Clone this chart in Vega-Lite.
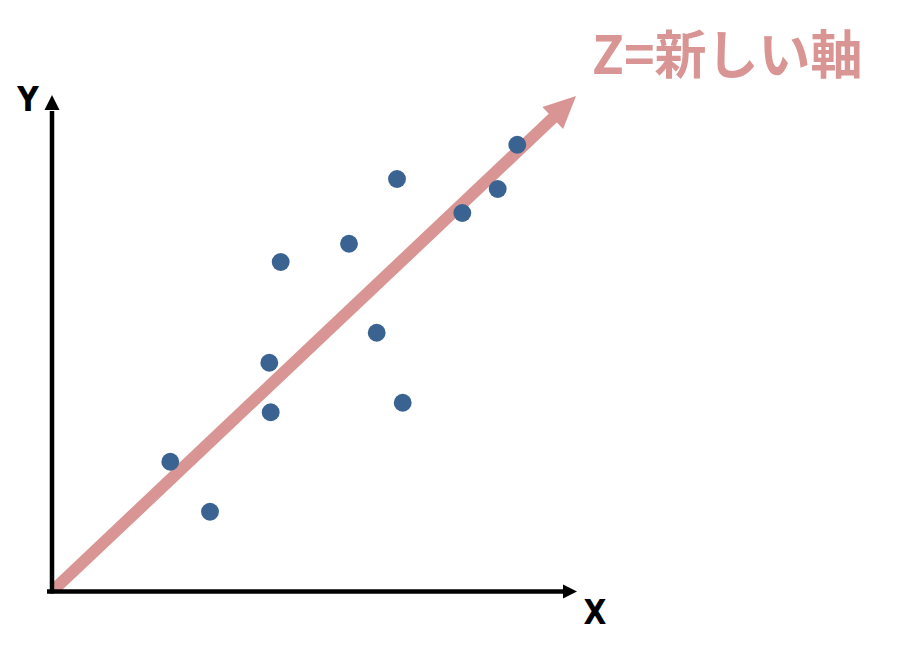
{
  "$schema": "https://vega.github.io/schema/vega-lite/v6.json",
  "width": 525,
  "height": 496,
  "autosize": "none",
  "padding": {"left": 52, "top": 95, "right": 323, "bottom": 60},
  "background": "white",
  "config": {"view": {"stroke": null}},
  "datasets": {
    "points": [
      {"x": 118.3, "y": 129.3},
      {"x": 158, "y": 79.3},
      {"x": 217.3, "y": 228.3},
      {"x": 218.7, "y": 178.7},
      {"x": 228.7, "y": 329},
      {"x": 297, "y": 347.3},
      {"x": 324.7, "y": 258.3},
      {"x": 345, "y": 412},
      {"x": 350.7, "y": 188.3},
      {"x": 410.3, "y": 378},
      {"x": 445.7, "y": 402},
      {"x": 465.3, "y": 446.3}
    ],
    "zline": [{"x": 2, "y": 1.5, "x2": 503, "y2": 475}],
    "zhead": [{"x": 512.4, "y": 484}],
    "xaxis": [{"x": -5, "y": -0.5, "x2": 513, "y2": -0.5}],
    "yaxis": [{"x": 0, "y": -2.5, "x2": 0, "y2": 480}],
    "xhead": [{"x": 518, "y": -0.5}],
    "yhead": [{"x": 0, "y": 488.5}],
    "axislabels": [
      {"x": -24, "y": 490, "label": "Y"},
      {"x": 543, "y": -23, "label": "X"}
    ],
    "title": [{"x": 540, "y": 535, "label": "Z=新しい軸"}]
  },
  "encoding": {
    "x": {"field": "x", "type": "quantitative", "scale": {"domain": [0, 525], "nice": false, "zero": false}, "axis": null},
    "y": {"field": "y", "type": "quantitative", "scale": {"domain": [0, 496], "nice": false, "zero": false}, "axis": null}
  },
  "layer": [
    {
      "data": {"name": "zline"},
      "mark": {"type": "rule", "color": "#d99594", "strokeWidth": 12, "strokeCap": "butt"},
      "encoding": {"x2": {"field": "x2"}, "y2": {"field": "y2"}}
    },
    {
      "data": {"name": "zhead"},
      "mark": {"type": "point", "shape": "M0,-1L-0.94,1L0.94,1Z", "size": 1024, "angle": 46.7, "filled": true, "color": "#d99594", "opacity": 1}
    },
    {
      "data": {"name": "points"},
      "mark": {"type": "circle", "size": 320, "color": "#3a6391", "opacity": 1}
    },
    {
      "data": {"name": "xaxis"},
      "mark": {"type": "rule", "color": "black", "strokeWidth": 4.5, "strokeCap": "butt"},
      "encoding": {"x2": {"field": "x2"}, "y2": {"field": "y2"}}
    },
    {
      "data": {"name": "yaxis"},
      "mark": {"type": "rule", "color": "black", "strokeWidth": 4.5, "strokeCap": "butt"},
      "encoding": {"x2": {"field": "x2"}, "y2": {"field": "y2"}}
    },
    {
      "data": {"name": "xhead"},
      "mark": {"type": "point", "shape": "M1,0L-1,-1L-1,1Z", "size": 196, "filled": true, "color": "black", "opacity": 1}
    },
    {
      "data": {"name": "yhead"},
      "mark": {"type": "point", "shape": "M0,-1L-1,1L1,1Z", "size": 225, "filled": true, "color": "black", "opacity": 1}
    },
    {
      "data": {"name": "axislabels"},
      "mark": {"type": "text", "font": "DejaVu Sans Condensed, Liberation Sans Narrow, Roboto, sans-serif", "fontSize": 33, "fontWeight": "bold", "color": "black", "align": "center", "baseline": "middle"},
      "encoding": {"text": {"field": "label"}}
    },
    {
      "data": {"name": "title"},
      "mark": {"type": "text", "font": "Noto Sans CJK JP", "fontSize": 52, "fontWeight": "bold", "color": "#d99594", "align": "left", "baseline": "middle", "dy": 2},
      "encoding": {"text": {"field": "label"}}
    }
  ]
}
